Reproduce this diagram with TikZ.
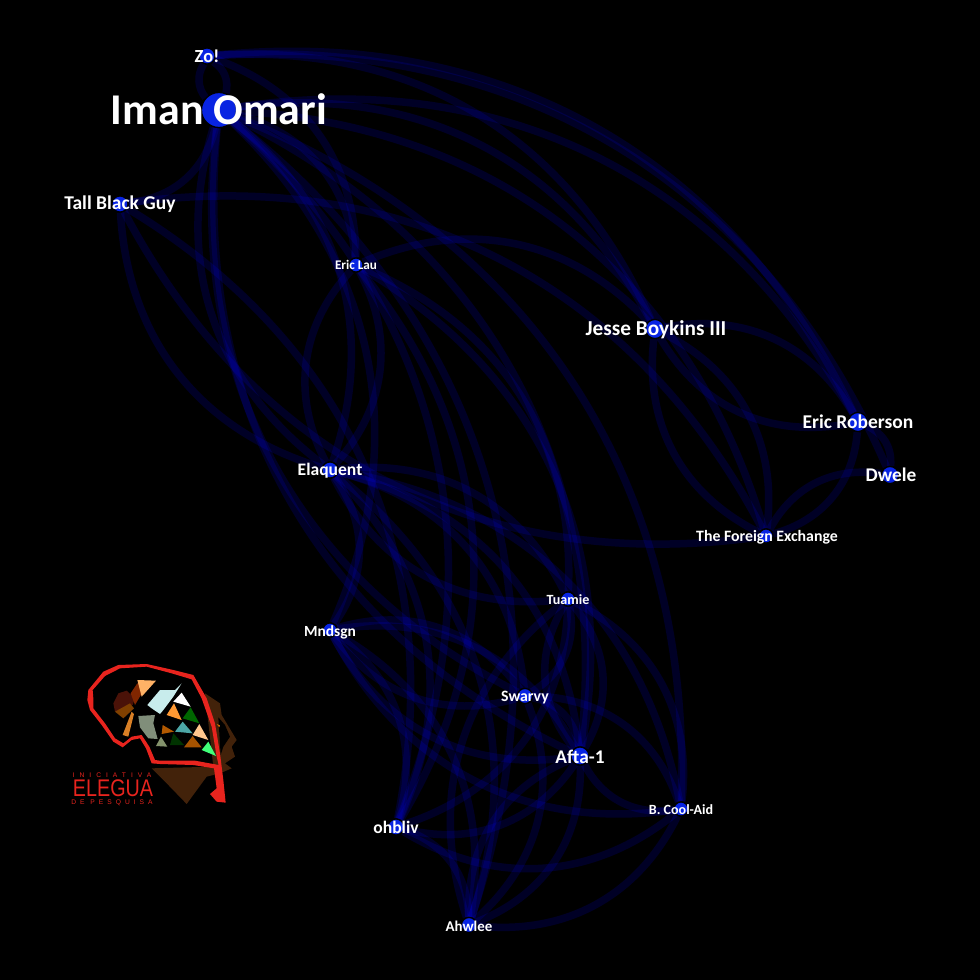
\documentclass[tikz,border=0pt]{standalone}
\usepackage{fontspec}
\setmainfont{Carlito}
\newfontfamily\logofont{Liberation Sans}
\usetikzlibrary{backgrounds}

\definecolor{nodeblue}{RGB}{8,36,226}
\definecolor{logored}{RGB}{232,36,30}
\definecolor{headbrown}{RGB}{66,34,10}
\definecolor{slab}{RGB}{128,142,122}
\definecolor{bird}{RGB}{200,236,236}
\definecolor{moss}{RGB}{132,146,108}
\definecolor{blob}{RGB}{74,18,8}

\tikzset{
  artist/.style={circle, draw=black, line width=0.7pt, fill=nodeblue, inner sep=0pt},
  tag/.style={text=white, inner sep=0pt, font=\bfseries\fontsize{#1}{#1}\selectfont},
  collab/.style={draw=blue, opacity=0.15, line width=0.15cm},
  logotag/.style={text=logored, inner sep=0pt}
}

\begin{document}
\begin{tikzpicture}[x=0.02cm, y=-0.02cm]

\useasboundingbox (0,0) rectangle (980,980);

% Artists
\node[artist, minimum size=0.7cm] (iman) at (219,110) {};
\node[artist, minimum size=0.32cm] (zo) at (207,56) {};
\node[artist, minimum size=0.32cm] (tall) at (120,204) {};
\node[artist, minimum size=0.28cm] (lau) at (356,265) {};
\node[artist, minimum size=0.38cm] (jesse) at (655,329) {};
\node[artist, minimum size=0.38cm] (roberson) at (858,422) {};
\node[artist, minimum size=0.34cm] (dwele) at (890,475) {};
\node[artist, minimum size=0.28cm] (foreign) at (766,536) {};
\node[artist, minimum size=0.32cm] (elaquent) at (330,470) {};
\node[artist, minimum size=0.28cm] (tuamie) at (568,599) {};
\node[artist, minimum size=0.28cm] (mndsgn) at (330,630) {};
\node[artist, minimum size=0.3cm] (swarvy) at (525,696) {};
\node[artist, minimum size=0.36cm] (afta) at (580,756) {};
\node[artist, minimum size=0.28cm] (cool) at (681,809) {};
\node[artist, minimum size=0.32cm] (ohbliv) at (396,827) {};
\node[artist, minimum size=0.3cm] (ahwlee) at (469,925) {};

% Collaborations
\begin{scope}[on background layer]
\fill[black] (0,0) rectangle (980,980);
\foreach \src/\dst in {zo/dwele, zo/roberson, zo/jesse, zo/lau, zo/iman, iman/zo,
  iman/tall, iman/roberson, iman/jesse, iman/foreign, iman/lau, iman/elaquent,
  iman/afta, iman/cool, iman/ahwlee, iman/ohbliv, iman/mndsgn,
  elaquent/iman, swarvy/iman, afta/iman,
  tall/foreign, foreign/tall, elaquent/tall, tall/ohbliv,
  lau/jesse, lau/elaquent, elaquent/lau, lau/tuamie, lau/ohbliv, lau/afta,
  jesse/roberson, roberson/jesse, jesse/foreign, foreign/jesse,
  roberson/dwele, roberson/foreign, foreign/dwele,
  elaquent/mndsgn, elaquent/tuamie, tuamie/elaquent,
  elaquent/afta, elaquent/swarvy, elaquent/cool, elaquent/ahwlee, elaquent/ohbliv,
  mndsgn/swarvy, swarvy/mndsgn, mndsgn/afta, afta/mndsgn, cool/mndsgn, mndsgn/ohbliv, mndsgn/ahwlee,
  tuamie/swarvy, tuamie/afta, afta/tuamie, tuamie/cool, tuamie/ohbliv, ahwlee/tuamie,
  swarvy/afta, swarvy/cool, swarvy/ahwlee,
  cool/afta, afta/ohbliv, ahwlee/afta, afta/ahwlee,
  cool/ohbliv, cool/ahwlee, ohbliv/ahwlee}
  \draw[collab] (\src) to[bend left=35] (\dst);
\end{scope}

% Labels
\node[tag=25] (imanlbl) at (219,109) {Iman Omari};
\node[tag=10.5] (zolbl) at (207,56) {Zo!};
\node[tag=11.1] (talllbl) at (120,204) {Tall Black Guy};
\node[tag=7.5] (laulbl) at (356,265) {Eric Lau};
\node[tag=12.1] (jesselbl) at (656,330) {Jesse Boykins III};
\node[tag=11.1] (robersonlbl) at (858,422) {Eric Roberson};
\node[tag=11] (dwelelbl) at (891,475) {Dwele};
\node[tag=9] (foreignlbl) at (767,537) {The Foreign Exchange};
\node[tag=10] (elaquentlbl) at (330,471) {Elaquent};
\node[tag=8] (tuamielbl) at (568,600) {Tuamie};
\node[tag=8.8] (mndsgnlbl) at (330,632) {Mndsgn};
\node[tag=9] (swarvylbl) at (525,698) {Swarvy};
\node[tag=11] (aftalbl) at (580,757) {Afta-1};
\node[tag=8] (coollbl) at (681,810) {B. Cool-Aid};
\node[tag=10] (ohblivlbl) at (396,827) {ohbliv};
\node[tag=8.5] (ahwleelbl) at (469,926) {Ahwlee};

% Logo, in crop coordinates
\begin{scope}[shift={(60,640)}, x=0.006667cm, y=-0.006667cm]
\fill[headbrown] (435,160) -- (480,190) -- (485,225) -- (530,300) -- (515,320) -- (525,350) -- (495,370) -- (515,385) -- (480,400) -- (440,410) -- (380,492) -- (320,430) -- (275,385) -- (460,380) -- cycle;
\fill[logored, even odd rule] (85,150) -- (130,95) -- (175,75) -- (260,72) -- (340,90) -- (400,105) -- (440,175) -- (465,250) -- (480,340) -- (490,420) -- (497,488) -- (470,485) -- (450,462) -- (470,445) -- (462,385) -- (400,375) -- (300,372) -- (275,370) -- (258,325) -- (240,295) -- (215,300) -- (188,322) -- (160,305) -- (125,255) -- (90,210) -- (82,180) -- cycle
  (100,175) -- (98,150) -- (135,108) -- (180,85) -- (260,80) -- (335,100) -- (395,118) -- (425,175) -- (455,260) -- (470,350) -- (476,375) -- (405,362) -- (300,362) -- (285,360) -- (268,320) -- (245,285) -- (215,290) -- (190,310) -- (165,295) -- (135,250) -- (100,205) -- cycle;
\fill[black] (475,232) -- (495,255) -- (510,290) -- (490,320) -- (482,345) -- cycle;
\fill[orange!80!black] (470,252) -- (480,256) -- (478,262) -- cycle;
\fill[blob] (160,190) -- (175,160) -- (200,152) -- (225,175) -- (218,195) -- (165,215) -- cycle;
\fill[orange!50!black] (165,215) -- (210,190) -- (222,205) -- (190,235) -- cycle;
\fill[red!40!orange!50!black] (232,130) -- (260,135) -- (225,195) -- (212,160) -- cycle;
\fill[orange!40!brown] (215,215) -- (222,222) -- (205,290) -- (188,285) -- cycle;
\fill[orange!60!white] (232,120) -- (288,122) -- (245,170) -- cycle;
\fill[bird] (262,195) -- (300,150) -- (345,150) -- (365,130) -- (340,170) -- (310,210) -- (300,222) -- (275,205) -- cycle;
\fill[white] (365,158) -- (392,200) -- (340,185) -- cycle;
\fill[orange!80!white] (342,190) -- (365,240) -- (320,225) -- cycle;
\fill[green!40!black] (392,202) -- (418,250) -- (368,235) -- cycle;
\fill[orange!70!black] (308,255) -- (342,275) -- (305,282) -- cycle;
\fill[teal!70!white] (368,245) -- (398,280) -- (345,275) -- cycle;
\fill[orange!45!white] (418,252) -- (445,300) -- (398,285) -- cycle;
\fill[green!20!black] (340,280) -- (372,315) -- (330,315) -- cycle;
\fill[orange!65!black] (398,288) -- (425,322) -- (372,322) -- cycle;
\fill[moss] (303,290) -- (322,320) -- (288,318) -- cycle;
\fill[green!70!cyan!75!white] (445,305) -- (468,348) -- (425,330) -- cycle;
\fill[slab] (235,228) -- (285,225) -- (280,250) -- (293,297) -- (265,295) -- (240,262) -- cycle;
\node[logotag, font=\logofont\fontsize{3.8}{3.8}\selectfont\addfontfeature{LetterSpace=75}] (initag) at (156,406) {INICIATIVA};
\node[logotag, font=\logofont\fontsize{13.7}{13.7}\selectfont, transform shape, xscale=0.82] (elegua) at (159,446) {ELEGUA};
\node[logotag, font=\logofont\fontsize{3.8}{3.8}\selectfont\addfontfeature{LetterSpace=60}] (pesquisa) at (156,489) {DE PESQUISA};
\end{scope}

\end{tikzpicture}
\end{document}
